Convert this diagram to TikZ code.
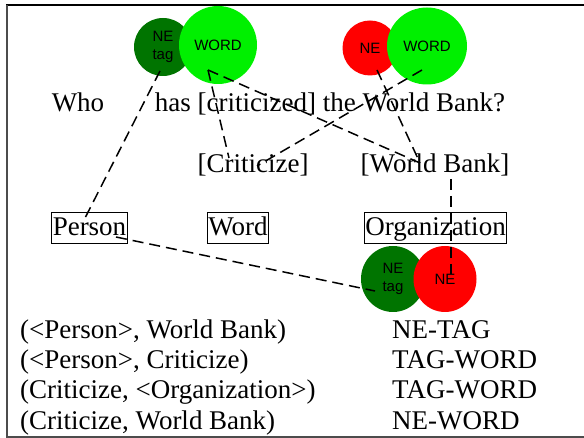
\documentclass[tikz,border=0pt]{standalone}
\usepackage{fontspec}
\setmainfont{Liberation Serif}
\setsansfont{Liberation Sans}
\usetikzlibrary{positioning,shapes.geometric}

\definecolor{tagcol}{RGB}{0,116,0}
\definecolor{wordcol}{RGB}{0,240,0}
\definecolor{necol}{RGB}{255,0,0}

\begin{document}
\begin{tikzpicture}[x=1pt, y=-1pt,
  txt/.style={inner sep=0pt, anchor=base, font=\fontsize{27}{30}\selectfont},
  row/.style={inner sep=0pt, anchor=base west, font=\fontsize{27}{30}\selectfont},
  cls/.style={draw, line width=0.8pt, inner xsep=1pt, inner ysep=1.5pt, anchor=base,
    text height=22pt, text depth=6pt, font=\fontsize{27}{30}\selectfont},
  blob/.style={ellipse, inner sep=0pt, align=center,
    font=\sffamily\fontsize{15}{18}\selectfont},
  tagdot/.style={blob, fill=tagcol},
  worddot/.style={blob, fill=wordcol},
  nedot/.style={blob, fill=necol},
  link/.style={dash pattern=on 11pt off 6pt, line width=1.5pt}]
  \useasboundingbox (0,0) rectangle (584,438);

  % Rahmen
  \draw[line width=2pt] (6,5) -- (584,5);
  \draw[gray!60!black, line width=1.6pt] (7,5) -- (7,437) -- (584,437);

  % Kreise oben
  \node[tagdot, minimum width=58, minimum height=58] (tagA) at (163,47) {NE\\tag};
  \node[worddot, minimum width=78, minimum height=78] (wordA) at (218,45) {WORD};
  \node[nedot, minimum width=55, minimum height=55] (neB) at (370,48) {NE};
  \node[worddot, minimum width=80, minimum height=77] (wordB) at (427,46) {WORD};

  % Satz und Begriffe
  \node[txt] (who) at (78,112) {Who};
  \node[txt] (question) at (330,112) {has [criticized] the World Bank?};
  \node[txt] (crit) at (253,173) {[Criticize]};
  \node[txt] (bank) at (435,173) {[World Bank]};

  % Klassen
  \node[cls] (person) at (89.5,236) {Person};
  \node[cls] (word) at (238,236) {Word};
  \node[cls] (org) at (435.5,236) {Organization};

  % Kreise unten
  \node[tagdot, minimum width=64, minimum height=66] (tagC) at (393,279) {NE\\tag};
  \node[nedot, minimum width=63, minimum height=66] (neC) at (445,279) {NE};

  % Paare
  \node[row] (p1) at (20,339) {(<Person>, World Bank)};
  \node[row] (p2) [below=0pt of p1.base west, anchor=base west, yshift=-30pt] {(<Person>, Criticize)};
  \node[row] (p3) [below=0pt of p2.base west, anchor=base west, yshift=-30pt] {(Criticize, <Organization>)};
  \node[row] (p4) [below=0pt of p3.base west, anchor=base west, yshift=-30pt] {(Criticize, World Bank)};
  \node[row] (t1) at (392,339) {NE-TAG};
  \node[row] (t2) [below=0pt of t1.base west, anchor=base west, yshift=-30pt] {TAG-WORD};
  \node[row] (t3) [below=0pt of t2.base west, anchor=base west, yshift=-30pt] {TAG-WORD};
  \node[row] (t4) [below=0pt of t3.base west, anchor=base west, yshift=-30pt] {NE-WORD};

  % Verbindungen
  \draw[link] ([shift={(-3,24)}]tagA.center) -- ([shift={(-5.5,-8)}]person.center);
  \draw[link] ([shift={(-10,25)}]wordA.center) -- ([shift={(-24,-15)}]crit.base);
  \draw[link] ([shift={(-10,25)}]wordA.center) -- ([shift={(-15,-10)}]bank.base);
  \draw[link] ([shift={(7,22)}]neB.center) -- ([shift={(-15,-10)}]bank.base);
  \draw[link] ([shift={(-5,24)}]wordB.center) -- ([shift={(4,-7)}]crit.base);
  \draw[link] ([shift={(16,6)}]bank.base) -- ([shift={(6,-5)}]neC.center);
  \draw[link] ([shift={(26.5,1)}]person.base) -- ([shift={(-18,12)}]tagC.center);
\end{tikzpicture}
\end{document}
